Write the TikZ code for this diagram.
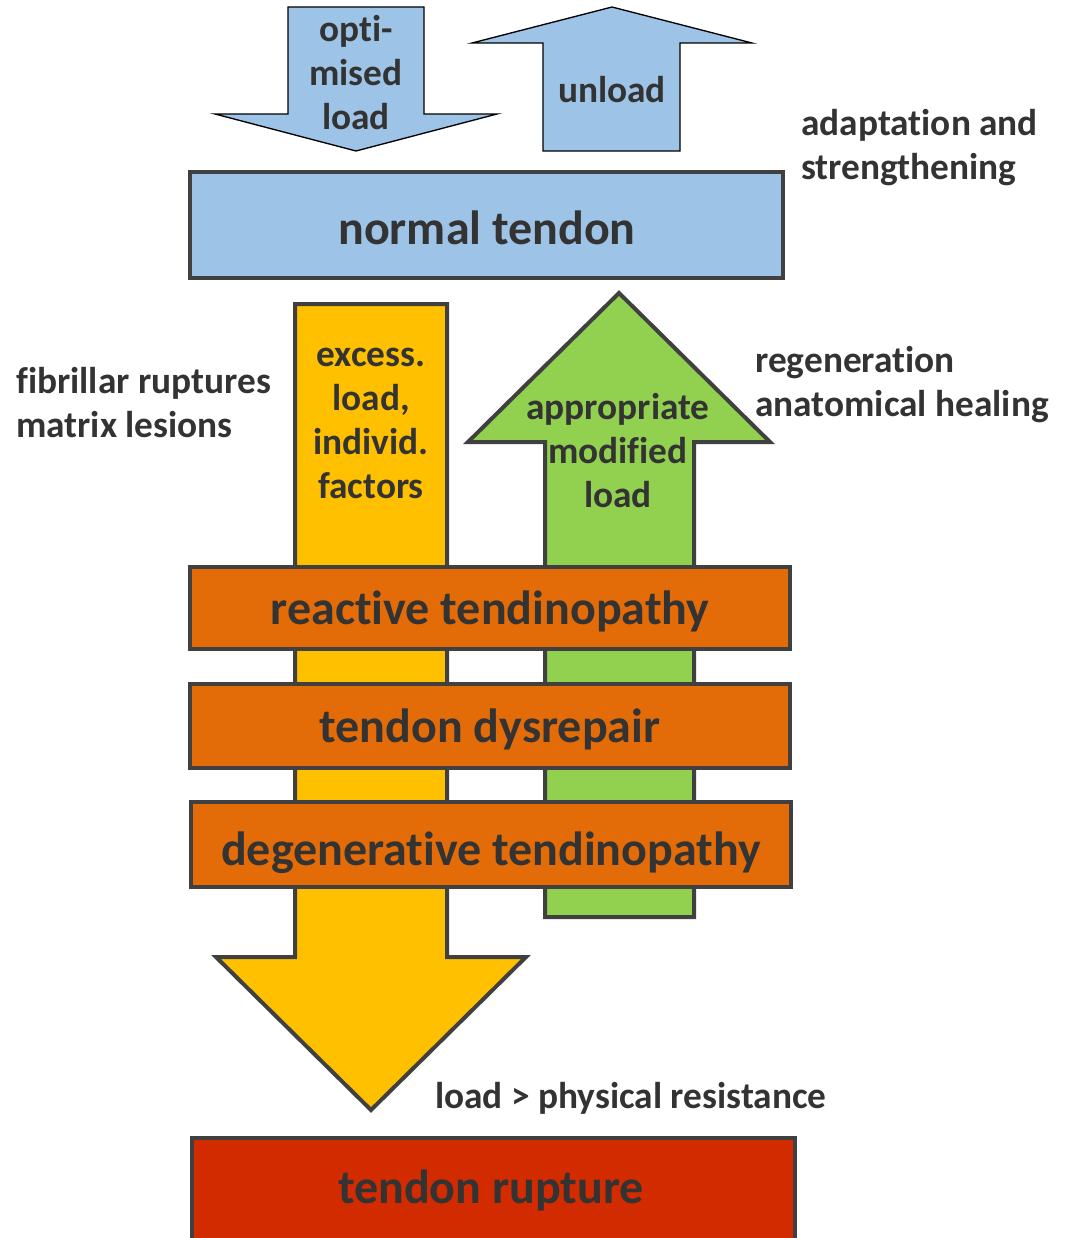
\documentclass[tikz,border=0pt]{standalone}
\usepackage{fontspec}
\setmainfont{Carlito}[Ligatures={NoCommon}]
\definecolor{tblue}{HTML}{9DC3E6}
\definecolor{tyellow}{HTML}{FFC000}
\definecolor{tgreen}{HTML}{92D050}
\definecolor{torange}{HTML}{E36C09}
\definecolor{tred}{HTML}{D22B00}
\definecolor{tline}{HTML}{404040}
\definecolor{ttext}{HTML}{333333}
\begin{document}
\begin{tikzpicture}[x=0.75pt,y=-0.75pt,
  thin outline/.style={draw=black,line width=1pt,fill=tblue},
  thick outline/.style={draw=tline,line width=3pt,line join=miter},
  bigtxt/.style={text=ttext,font=\fontsize{36pt}{40pt}\selectfont\bfseries,inner sep=0pt},
  smalltxt/.style={text=ttext,font=\fontsize{28pt}{33pt}\selectfont\bfseries,inner sep=0pt},
  sidetxt/.style={smalltxt,align=left,anchor=west}]
\useasboundingbox (0,0) rectangle (1067,1238);
% top arrows
\draw[thin outline] (288,7) -- (424,7) -- (424,114) -- (497,114) -- (356,151) -- (215,114) -- (288,114) -- cycle;
\draw[thin outline] (612,7) -- (752,43) -- (680,43) -- (680,151) -- (543,151) -- (543,43) -- (472,43) -- cycle;
% normal tendon
\node[thick outline,fill=tblue,minimum width=593*0.75pt,minimum height=106*0.75pt,inner sep=0pt] (normal) at (486.5,225) {};
% yellow arrow
\draw[thick outline,fill=tyellow] (295,304) -- (447,304) -- (447,957) -- (526,957) -- (371,1110) -- (216,957) -- (295,957) -- cycle;
% green arrow
\draw[thick outline,fill=tgreen] (619,293) -- (770,442) -- (694,442) -- (694,917) -- (545,917) -- (545,442) -- (468,442) -- cycle;
% orange boxes
\node[thick outline,fill=torange,minimum width=600*0.75pt,minimum height=82*0.75pt,inner sep=0pt] (reactive) at (490,608) {};
\node[thick outline,fill=torange,minimum width=600*0.75pt,minimum height=84*0.75pt,inner sep=0pt] (dysrepair) at (490,726) {};
\node[thick outline,fill=torange,minimum width=600*0.75pt,minimum height=85*0.75pt,inner sep=0pt] (degen) at (491,844.5) {};
% rupture
\node[thick outline,fill=tred,minimum width=603*0.75pt,minimum height=110*0.75pt,inner sep=0pt,anchor=north west] (rupture) at (190,1136) {};
% texts
\node[smalltxt,align=center] (opt) at (356,73) {opti-\\mised\\load};
\node[smalltxt] (unload) at (612,90) {unload};
\node[sidetxt] (adapt) at (801,148) {adaptation and\\strengthening};
\node[bigtxt] (normaltxt) at (487,228) {normal tendon};
\node[sidetxt] (fib) at (16,403) {fibrillar ruptures\\matrix lesions};
\node[smalltxt,align=center] (excess) at (371,423) {excess.\\load,\\individ.\\factors};
\node[smalltxt,align=center] (approp) at (618,451) {appropriate\\modified\\load};
\node[sidetxt] (regen) at (755,385) {regeneration\\anatomical healing};
\node[bigtxt] (reactivetxt) at (490,611) {reactive tendinopathy};
\node[bigtxt] (dysrepairtxt) at (490,729) {tendon dysrepair};
\node[bigtxt] (degentxt) at (491,853) {degenerative tendinopathy};
\node[sidetxt] (loadtxt) at (435,1098) {load > physical resistance};
\node[bigtxt] (rupturetxt) at (491,1190) {tendon rupture};
\end{tikzpicture}
\end{document}
